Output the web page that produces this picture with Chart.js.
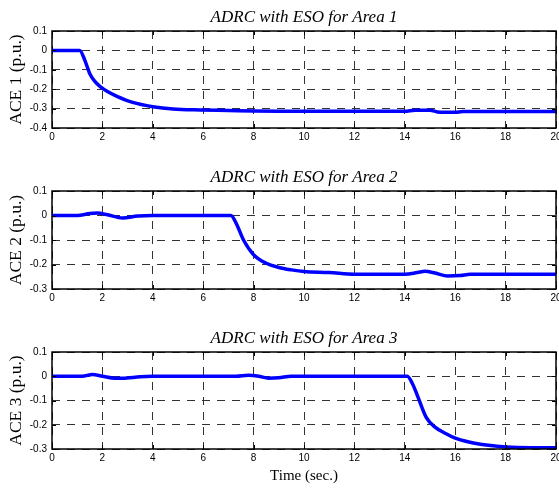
<!DOCTYPE html>
<html lang="en">
<head>
<meta charset="utf-8">
<title>ADRC with ESO - ACE response</title>
<script src="https://cdn.jsdelivr.net/npm/chart.js"></script>
<style>
  body { margin: 0; background: #fff; }
  #wrap { position: relative; width: 559px; height: 489px; }
  .panel { position: absolute; left: 0; width: 559px; }
</style>
</head>
<body>
<div id="wrap">
  <div class="panel" style="top:0;height:150px"><canvas id="area1"></canvas></div>
  <div class="panel" style="top:150px;height:161px"><canvas id="area2"></canvas></div>
  <div class="panel" style="top:311px;height:178px"><canvas id="area3"></canvas></div>
</div>
<script>
  // ---- data ----
  const xTicks = [0, 2, 4, 6, 8, 10, 12, 14, 16, 18, 20];

  const area1Time = [0, 1.1, 1.3, 1.5, 1.7, 1.9, 2.2, 2.6, 3.2, 4, 4.8, 5.9, 7, 8, 9, 12, 14, 14.4, 15, 15.3, 15.5, 16, 16.3, 20];
  const area1Ace  = [0, 0, -0.05, -0.12, -0.16, -0.185, -0.212, -0.238, -0.268, -0.29, -0.302, -0.307, -0.31, -0.313, -0.314, -0.314, -0.314, -0.308, -0.308, -0.317, -0.319, -0.319, -0.315, -0.315];
  const area1YTicks = [0.1, 0, -0.1, -0.2, -0.3, -0.4];

  const area2Time = [0, 1, 1.5, 1.8, 2.2, 2.8, 3.4, 4, 7.1, 7.3, 7.6, 8, 8.5, 9, 9.5, 10, 11, 12, 14, 14.5, 14.8, 15.2, 15.7, 16.2, 16.6, 20];
  const area2Ace  = [0, 0, 0.008, 0.01, 0.003, -0.01, -0.002, 0, 0, -0.03, -0.1, -0.16, -0.195, -0.212, -0.222, -0.229, -0.233, -0.24, -0.24, -0.233, -0.228, -0.235, -0.247, -0.245, -0.24, -0.24];
  const area2YTicks = [0.1, 0, -0.1, -0.2, -0.3];

  const area3Time = [0, 1.2, 1.6, 2, 2.5, 2.8, 3.5, 4, 7.3, 7.8, 8.2, 8.6, 9, 9.5, 14.1, 14.3, 14.5, 14.85, 15.2, 15.6, 16, 16.5, 17, 17.5, 18, 19, 20];
  const area3Ace  = [0, 0, 0.007, 0, -0.008, -0.008, -0.002, 0, 0, 0.004, 0, -0.008, -0.006, 0, 0, -0.03, -0.08, -0.17, -0.21, -0.235, -0.255, -0.27, -0.28, -0.287, -0.292, -0.295, -0.295];
  const area3YTicks = [0.1, 0, -0.1, -0.2, -0.3];

  Chart.defaults.font.family = "'Liberation Sans', Arial, sans-serif";
  Chart.defaults.font.size = 10;
  Chart.defaults.color = '#000';

  // solid box around the plot plus MATLAB style inward ticks
  const framePlugin = {
    id: 'frame',
    afterDraw(chart) {
      const { ctx, chartArea: a, scales: { x, y } } = chart;
      ctx.save();
      ctx.strokeStyle = '#000';
      ctx.lineWidth = 1;
      ctx.setLineDash([]);
      ctx.beginPath();
      x.ticks.forEach(t => {
        const px = Math.round(x.getPixelForValue(t.value)) + 0.5;
        ctx.moveTo(px, a.top); ctx.lineTo(px, a.top + 4);
        ctx.moveTo(px, a.bottom); ctx.lineTo(px, a.bottom - 4);
      });
      y.ticks.forEach(t => {
        const py = Math.round(y.getPixelForValue(t.value)) + 0.5;
        ctx.moveTo(a.left, py); ctx.lineTo(a.left + 4, py);
        ctx.moveTo(a.right, py); ctx.lineTo(a.right - 4, py);
      });
      ctx.stroke();
      ctx.lineWidth = 1.5;
      ctx.strokeRect(a.left, a.top, a.right - a.left, a.bottom - a.top);
      ctx.restore();
    }
  };

  function makeChart(id, time, ace, yTicks, area, padTop, xTitle) {
    const serif = "'Liberation Serif', 'Times New Roman', serif";
    new Chart(document.getElementById(id), {
      type: 'line',
      data: {
        datasets: [{
          data: time.map((t, i) => ({ x: t, y: ace[i] })),
          borderColor: '#0000ff',
          borderWidth: 3.5,
          pointRadius: 0,
          cubicInterpolationMode: 'monotone',
          fill: false
        }]
      },
      options: {
        responsive: true,
        maintainAspectRatio: false,
        animation: false,
        layout: { padding: { top: padTop, right: 3, left: 0, bottom: 0 } },
        plugins: {
          legend: { display: false },
          tooltip: { enabled: false },
          title: {
            display: true,
            fullSize: false,
            text: 'ADRC with ESO for Area ' + area,
            color: '#000',
            font: { family: serif, size: 17, style: 'italic', weight: 'normal' },
            padding: { top: 0, bottom: 3 }
          }
        },
        scales: {
          x: {
            type: 'linear',
            min: xTicks[0],
            max: xTicks[xTicks.length - 1],
            ticks: { stepSize: 2, padding: 3, maxRotation: 0 },
            grid: { color: '#333', lineWidth: 1, drawTicks: false },
            border: { display: false, dash: [8, 7] },
            title: {
              display: !!xTitle,
              text: xTitle || '',
              color: '#000',
              font: { family: serif, size: 15 },
              padding: { top: 0, bottom: 4 }
            },
            afterFit(scale) {
              scale.height = xTitle ? 40 : 22;
              scale.paddingLeft = 0;
              scale.paddingRight = 0;
            }
          },
          y: {
            min: yTicks[yTicks.length - 1],
            max: yTicks[0],
            ticks: {
              stepSize: 0.1,
              padding: 5,
              callback: v => {
                const r = Math.round(v * 10) / 10;
                return r === 0 ? '0' : String(r);
              }
            },
            grid: { color: '#333', lineWidth: 1, drawTicks: false },
            border: { display: false, dash: [8, 7] },
            title: {
              display: true,
              text: 'ACE ' + area + ' (p.u.)',
              color: '#000',
              font: { family: serif, size: 17.5 },
              padding: { top: 6, bottom: 0 }
            },
            afterFit(scale) {
              scale.width = 52;
              scale.paddingTop = 0;
              scale.paddingBottom = 0;
            }
          }
        }
      },
      plugins: [framePlugin]
    });
  }

  makeChart('area1', area1Time, area1Ace, area1YTicks, 1, 7.6);
  makeChart('area2', area2Time, area2Ace, area2YTicks, 2, 17.6);
  makeChart('area3', area3Time, area3Ace, area3YTicks, 3, 17.6, 'Time (sec.)');
</script>
</body>
</html>
